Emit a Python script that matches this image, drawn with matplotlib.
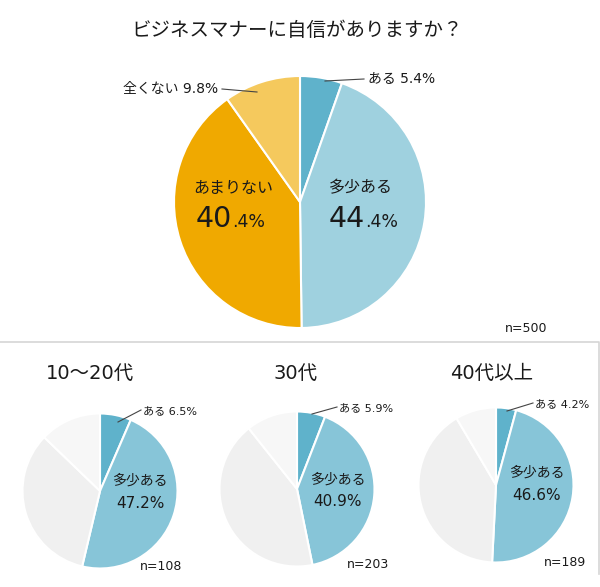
import matplotlib
matplotlib.use("Agg")
import matplotlib.pyplot as plt

plt.rcParams['font.family'] = ['DejaVu Sans', 'Noto Sans CJK JP']

# ---- data ----
title = "ビジネスマナーに自信がありますか？"
categories = ["ある", "多少ある", "あまりない", "全くない"]
main_values = [5.4, 44.4, 40.4, 9.8]
main_n = 500

group_titles = ["10～20代", "30代", "40代以上"]
group_aru = [6.5, 5.9, 4.2]
group_tashou = [47.2, 40.9, 46.6]
group_amari = [33.5, 42.5, 40.7]   # (unlabeled)
group_mattaku = [12.8, 10.7, 8.5]  # (unlabeled)
group_n = [108, 203, 189]

main_colors = ["#5fb2cb", "#9fd1df", "#f0a900", "#f5c95d"]
sub_colors = ["#5fb2cb", "#87c5d8", "#f0f0f0", "#f7f7f7"]

W, H = 600, 587
fig = plt.figure(figsize=(W / 100, H / 100), dpi=100)
ax = fig.add_axes([0, 0, 1, 1])
ax.set_xlim(0, W)
ax.set_ylim(0, H)
ax.axis('off')

TXT = '#1a1a1a'


def Y(py):
    return H - py


# title
ax.text(297, Y(31), title, ha='center', va='center', fontsize=14, color=TXT)

# main pie
mc = (300, Y(202))
ax.pie(main_values, colors=main_colors, startangle=90, counterclock=False,
       radius=126, center=mc, frame=True,
       wedgeprops=dict(edgecolor='white', linewidth=1.5))

# labels main
ax.plot([325, 364], [Y(81), Y(79)], color='#444444', lw=0.8)
ax.text(368, Y(78), f"{categories[0]} {main_values[0]}%", ha='left', va='center',
        fontsize=10, color=TXT)
ax.plot([222, 257], [Y(89), Y(92)], color='#444444', lw=0.8)
ax.text(218, Y(89), f"{categories[3]} {main_values[3]}%", ha='right', va='center',
        fontsize=10, color=TXT)

ax.text(361, Y(188), categories[1], ha='center', va='center', fontsize=11.5, color=TXT)
ip, dp = f"{main_values[1]:.1f}".split('.')
ax.text(365, Y(227), ip, ha='right', va='baseline', fontsize=20.5, color=TXT)
ax.text(365, Y(227), '.' + dp + '%', ha='left', va='baseline', fontsize=12.5, color=TXT)

ax.text(233, Y(188), categories[2], ha='center', va='center', fontsize=11.5, color=TXT)
ip, dp = f"{main_values[2]:.1f}".split('.')
ax.text(232, Y(227), ip, ha='right', va='baseline', fontsize=20.5, color=TXT)
ax.text(232, Y(227), '.' + dp + '%', ha='left', va='baseline', fontsize=12.5, color=TXT)

ax.text(526, Y(328), f"n={main_n}", ha='center', va='center', fontsize=9, color=TXT)

# separator frame
ax.plot([0, 598.5, 598.5], [Y(342), Y(342), Y(574)], color='#d5d5d5', lw=1.2)

# sub pies
centers = [(100, 491), (297, 489), (496, 485)]
title_x = [90, 296, 492]
aru_line = [((118, 422), (141, 410)), ((312, 414), (337, 407)), ((507, 411), (533, 403))]
aru_text = [(143, 411), (339, 408), (535, 404)]
tashou_pos = [(140, 481), (338, 480), (537, 473)]
n_pos = [(161, 567), (368, 564), (565, 562)]

for i in range(3):
    vals = [group_aru[i], group_tashou[i], group_amari[i], group_mattaku[i]]
    cx, cy = centers[i]
    ax.pie(vals, colors=sub_colors, startangle=90, counterclock=False,
           radius=77.5, center=(cx, Y(cy)), frame=True,
           wedgeprops=dict(edgecolor='white', linewidth=1.5))
    ax.text(title_x[i], Y(373), group_titles[i], ha='center', va='center',
            fontsize=14, color=TXT)
    (x0, y0), (x1, y1) = aru_line[i]
    ax.plot([x0, x1], [Y(y0), Y(y1)], color='#444444', lw=0.8)
    ax.text(aru_text[i][0], Y(aru_text[i][1]), f"{categories[0]} {group_aru[i]}%",
            ha='left', va='center', fontsize=8, color=TXT)
    tx, ty = tashou_pos[i]
    ax.text(tx, Y(ty), categories[1], ha='center', va='center', fontsize=10, color=TXT)
    ax.text(tx, Y(ty + 22), f"{group_tashou[i]}%", ha='center', va='center',
            fontsize=11, color=TXT)
    ax.text(n_pos[i][0], Y(n_pos[i][1]), f"n={group_n[i]}", ha='center', va='center',
            fontsize=9, color=TXT)

ax.set_xlim(0, W)
ax.set_ylim(0, H)
ax.set_aspect('auto')
fig.savefig("out.png", dpi=100)
